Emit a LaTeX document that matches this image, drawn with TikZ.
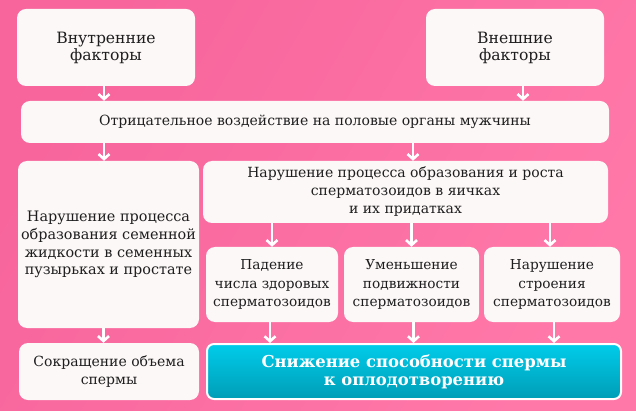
\documentclass[tikz,border=0pt]{standalone}
\usepackage{fontspec}
\setmainfont{DejaVu Serif}
\usetikzlibrary{arrows.meta}
\definecolor{bgA}{HTML}{FF78A8}
\definecolor{bgB}{HTML}{F7659C}
\definecolor{boxfill}{HTML}{FDF8F8}
\definecolor{txt}{HTML}{1E1E1E}
\definecolor{blueA}{HTML}{00CCEA}
\definecolor{blueB}{HTML}{009DB6}
\tikzset{
  x=1pt,y=-1pt,
  whitebox/.style={draw=none,fill=boxfill,rounded corners=9pt,align=center,text=txt,
    inner sep=0pt,font=\fontsize{14}{18}\selectfont},
  bigtext/.style={font=\fontsize{15.6}{17}\selectfont},
  midtext/.style={font=\fontsize{14.4}{17.8}\selectfont},
  smalltext/.style={font=\fontsize{13.7}{18.5}\selectfont},
  bluebox/.style={draw=white,line width=2pt,rounded corners=7pt,top color=blueA,bottom color=blueB,
    align=center,inner sep=0pt,text=white,font=\fontsize{16.4}{18}\selectfont\bfseries},
  arr/.style={draw=white,line width=2.6pt,-{Straight Barb[length=5pt,width=11pt,line width=2.6pt]}}
}
\begin{document}
\begin{tikzpicture}
\useasboundingbox (0,0) rectangle (636,411);
\shade[shading=axis,left color=bgB,right color=bgA,shading angle=60] (0,0) rectangle (636,411);
\node[whitebox,bigtext,minimum width=178pt,minimum height=77pt] (inner) at (106,47.5) {Внутренние\\факторы};
\node[whitebox,bigtext,minimum width=178pt,minimum height=77pt] (outer) at (515,47.5) {Внешние\\факторы};
\node[whitebox,minimum width=588pt,minimum height=42pt] (neg) at (315,122) {Отрицательное воздействие на половые органы мужчины};
\node[whitebox,midtext,minimum width=181pt,minimum height=167pt] (left) at (108.5,244.5) {Нарушение процесса\\образования семенной\\жидкости в семенных\\пузырьках и простате};
\node[whitebox,minimum width=405pt,minimum height=62pt] (proc) at (405.5,192) {Нарушение процесса образования и роста\\сперматозоидов в яичках\\и их придатках};
\node[whitebox,smalltext,minimum width=132pt,minimum height=75pt] (fall) at (272,284.5) {Падение\\числа здоровых\\сперматозоидов};
\node[whitebox,smalltext,minimum width=135pt,minimum height=75pt] (mot) at (411.5,284.5) {Уменьшение\\подвижности\\сперматозоидов};
\node[whitebox,smalltext,minimum width=136pt,minimum height=75pt] (str) at (552,284.5) {Нарушение\\строения\\сперматозоидов};
\node[whitebox,minimum width=180pt,minimum height=57pt] (vol) at (109,371.5) {Сокращение объема\\спермы};
\node[bluebox,minimum width=414pt,minimum height=55pt] (blue) at (414,371.5) {Снижение способности спермы\\к оплодотворению};
\draw[arr] ([xshift=-2pt]inner.south) -- ([xshift=-2pt]inner.south |- neg.north);
\draw[arr] ([xshift=8pt]outer.south) -- ([xshift=8pt]outer.south |- neg.north);
\draw[arr] (104,0 |- neg.south) -- (104,0 |- left.north);
\draw[arr] ([xshift=7.5pt]proc.north |- neg.south) -- ([xshift=7.5pt]proc.north);
\draw[arr] (fall.north |- proc.south) -- (fall.north);
\draw[arr] (mot.north |- proc.south) -- (mot.north);
\draw[arr] ([xshift=-2pt]str.north |- proc.south) -- ([xshift=-2pt]str.north);
\draw[arr] ([xshift=-5pt]left.south) -- ([xshift=-5pt]left.south |- vol.north);
\draw[arr] ([xshift=-2pt]fall.south) -- ([xshift=-2pt]fall.south |- blue.north);
\draw[arr] ([xshift=2pt]mot.south) -- ([xshift=2pt]mot.south |- blue.north);
\draw[arr] ([xshift=2pt]str.south) -- ([xshift=2pt]str.south |- blue.north);
\end{tikzpicture}
\end{document}
